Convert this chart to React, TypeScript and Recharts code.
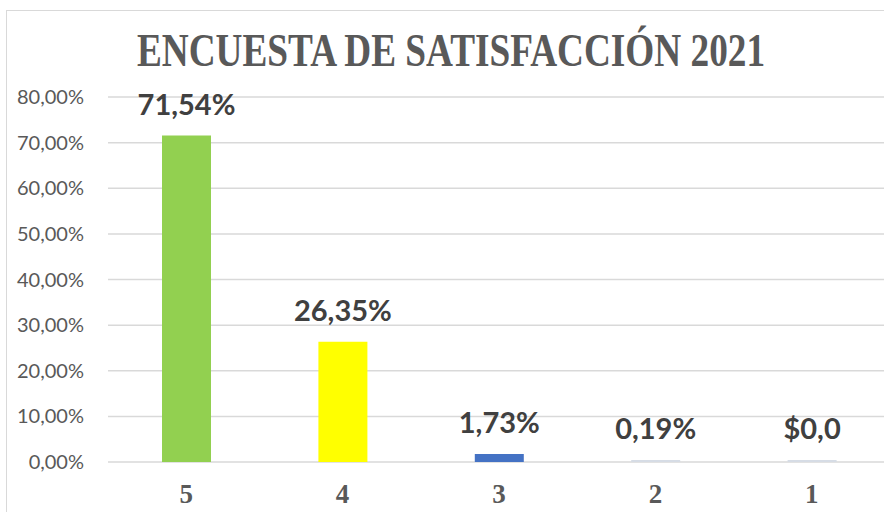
import React from "react";
import { BarChart, Bar, XAxis, YAxis, CartesianGrid, Cell, LabelList } from "recharts";

const categories = ["5", "4", "3", "2", "1"];
const values = [71.54, 26.35, 1.73, 0.19, 0];
const valueLabels = ["71,54%", "26,35%", "1,73%", "0,19%", "$0,0"];
const barColors = ["#92D050", "#FFFF00", "#4472C4", "#D6DCE5", "#D6DCE5"];
const yTicks = [0, 10, 20, 30, 40, 50, 60, 70, 80];
const title = "ENCUESTA DE SATISFACCIÓN 2021";

const data = categories.map((c, i) => ({ cat: c, value: values[i], label: valueLabels[i] }));

const fmt = (v: number) => v.toFixed(2).replace(".", ",") + "%";

export default function App() {
  return (
    <div style={{ position: "absolute", left: 0, top: 0, width: 884, height: 512, overflow: "hidden", background: "#fff" }}>
      <div style={{ position: "absolute", left: 6, top: 10, width: 900, height: 520, border: "1.5px solid #D9D9D9", boxSizing: "border-box" }} />
      <div style={{ position: "absolute", left: 0, top: 0 }}>
        <BarChart width={900} height={512} data={data} margin={{ top: 97, right: 10, left: 8, bottom: 0 }}>
          <CartesianGrid vertical={false} stroke="#D9D9D9" strokeWidth={1.5} />
          <XAxis
            dataKey="cat"
            axisLine={false}
            tickLine={false}
            tickSize={0}
            tickMargin={22}
            height={50}
            interval={0}
            tick={{ fill: "#595959", fontSize: 27, fontWeight: "bold", fontFamily: "'Liberation Serif', 'Times New Roman', serif" }}
          />
          <YAxis
            domain={[0, 80]}
            ticks={yTicks}
            tickFormatter={fmt}
            axisLine={false}
            tickLine={false}
            tickSize={0}
            tickMargin={24}
            width={100}
            interval={0}
            tick={{ fill: "#595959", fontSize: 20, fontFamily: "Lato, 'Noto Sans', sans-serif" }}
          />
          <Bar dataKey="value" barSize={49} isAnimationActive={false} minPointSize={2}>
            {data.map((d, i) => (
              <Cell key={d.cat} fill={barColors[i]} />
            ))}
            <LabelList
              dataKey="label"
              position="top"
              offset={21}
              fill="#404040"
              fontSize={29}
              fontWeight="bold"
              fontFamily="Lato, 'Noto Sans', sans-serif"
            />
          </Bar>
        </BarChart>
      </div>
      <svg style={{ position: "absolute", left: 0, top: 0 }} width={884} height={120}>
        <text
          transform="translate(137,66) scale(1,1.28)"
          x={0}
          y={0}
          textLength={628}
          lengthAdjust="spacingAndGlyphs"
          fill="#595959"
          fontSize={36}
          fontWeight="bold"
          fontFamily="'Liberation Serif', 'Times New Roman', serif"
        >
          {title}
        </text>
      </svg>
    </div>
  );
}
